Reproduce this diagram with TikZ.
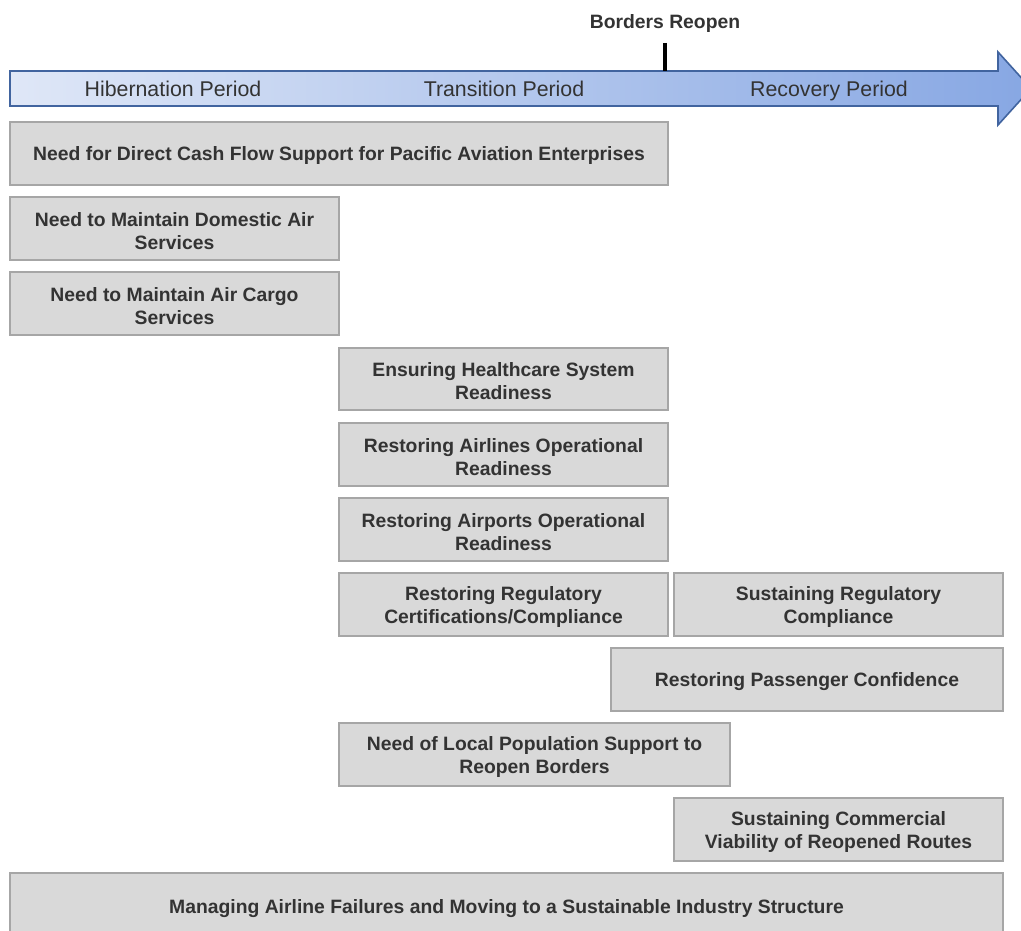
\documentclass[tikz,border=0pt]{standalone}
\usepackage{fontspec}
\setmainfont{Liberation Sans}
\definecolor{boxfill}{HTML}{D9D9D9}
\definecolor{boxline}{HTML}{A6A6A6}
\definecolor{txt}{HTML}{333333}
\definecolor{arrline}{HTML}{41649F}
\definecolor{arrleft}{HTML}{DFE7F7}
\definecolor{arrright}{HTML}{87A7E3}
\tikzset{
  box/.style={draw=boxline, fill=boxfill, line width=1.5pt, inner sep=0pt, minimum height={63*0.75pt}},
  boxtext/.style={inner sep=0pt, align=center, text=txt, yshift={-2.5*0.75pt},
    font=\fontsize{14.5}{17.25}\selectfont\bfseries},
  period/.style={text=txt, font=\fontsize{16}{19}\selectfont, inner sep=0pt, text height=11.5pt, text depth=3.2pt},
  milestone/.style={text=txt, font=\fontsize{14.5}{17}\selectfont\bfseries, inner sep=0pt}
}
\begin{document}
\begin{tikzpicture}[x=0.75pt,y=-0.75pt]
\useasboundingbox (0,0) rectangle (1021,931);
% timeline arrow
\shade[left color=arrleft, right color=arrright, draw=arrline, line width=1.2pt]
  (10,71) -- (998,71) -- (998,52) -- (1031,88.5) -- (998,125) -- (998,106) -- (10,106) -- cycle;
\node[period] (hib) at (173,91) {Hibernation Period};
\node[period] (tra) at (504,91) {Transition Period};
\node[period] (rec) at (829,91) {Recovery Period};
% milestone
\node[milestone] (br) at (665,24) {Borders Reopen};
\coordinate (tickTop) at (665,43);
\coordinate (tickBot) at (665,71);
\draw[line width=2.3pt, black] (tickTop) -- (tickBot);
% boxes
\node[box, minimum width={658*0.75pt}] (cash) at (339,153.5) {};
\node[boxtext] (cashT) at (cash) {Need for Direct Cash Flow Support for Pacific Aviation Enterprises};
\node[box, minimum width={329*0.75pt}] (dom) at (174.5,228.5) {};
\node[boxtext] (domT) at (dom) {Need to Maintain Domestic Air\\Services};
\node[box, minimum width={329*0.75pt}] (cargo) at (174.5,303.5) {};
\node[boxtext] (cargoT) at (cargo) {Need to Maintain Air Cargo\\Services};
\node[box, minimum width={329*0.75pt}, minimum height={62*0.75pt}] (health) at (503.5,379) {};
\node[boxtext] (healthT) at (health) {Ensuring Healthcare System\\Readiness};
\node[box, minimum width={329*0.75pt}] (airl) at (503.5,454.5) {};
\node[boxtext] (airlT) at (airl) {Restoring Airlines Operational\\Readiness};
\node[box, minimum width={329*0.75pt}] (airp) at (503.5,529.5) {};
\node[boxtext] (airpT) at (airp) {Restoring Airports Operational\\Readiness};
\node[box, minimum width={329*0.75pt}] (regc) at (503.5,604.5) {};
\node[boxtext] (regcT) at (regc) {Restoring Regulatory\\Certifications/Compliance};
\node[box, minimum width={329*0.75pt}] (regs) at (838.5,604.5) {};
\node[boxtext] (regsT) at (regs) {Sustaining Regulatory\\Compliance};
\node[box, minimum width={392*0.75pt}] (pass) at (807,679.5) {};
\node[boxtext] (passT) at (pass) {Restoring Passenger Confidence};
\node[box, minimum width={391*0.75pt}] (local) at (534.5,754.5) {};
\node[boxtext] (localT) at (local) {Need of Local Population Support to\\Reopen Borders};
\node[box, minimum width={329*0.75pt}] (comm) at (838.5,829.5) {};
\node[boxtext] (commT) at (comm) {Sustaining Commercial\\Viability of Reopened Routes};
\node[box, minimum width={993*0.75pt}, minimum height={66*0.75pt}] (manage) at (506.5,906) {};
\node[boxtext] (manageT) at (manage) {Managing Airline Failures and Moving to a Sustainable Industry Structure};
\end{tikzpicture}
\end{document}
